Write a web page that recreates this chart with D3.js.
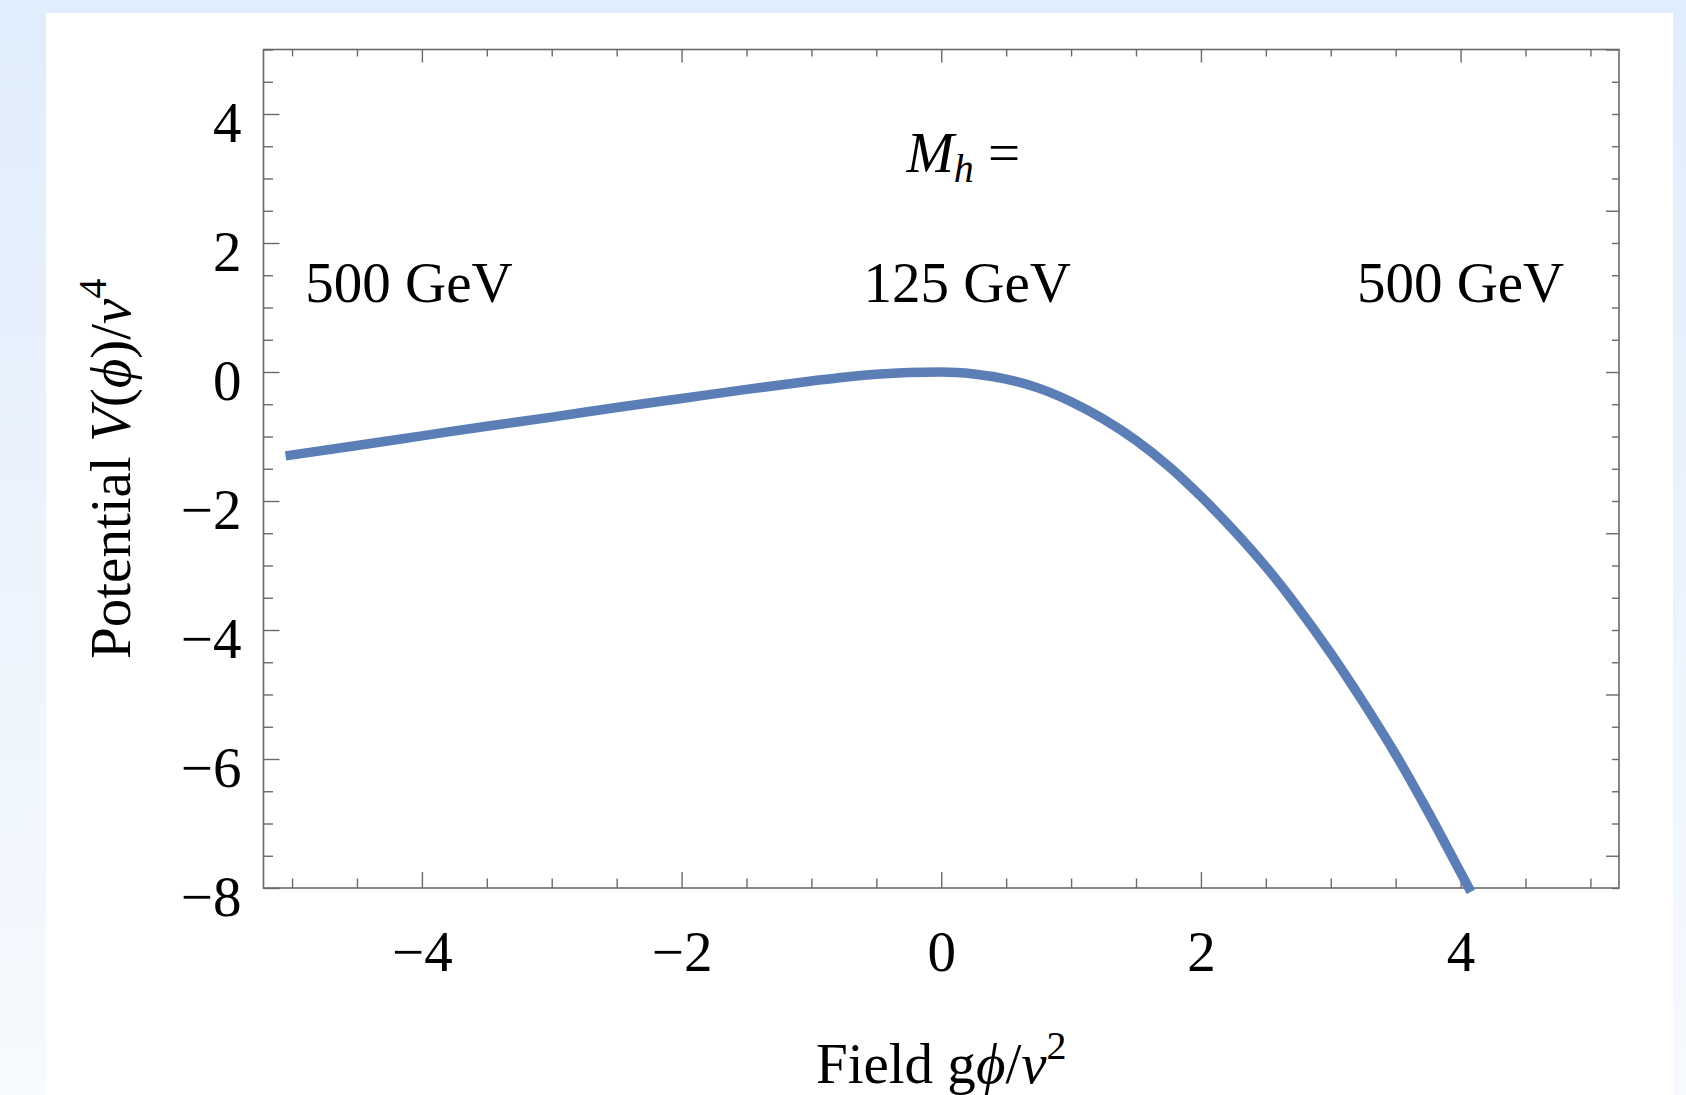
<!DOCTYPE html>
<html>
<head>
<meta charset="utf-8">
<script src="https://cdn.jsdelivr.net/npm/d3@7"></script>
<style>
  html, body { margin: 0; padding: 0; }
  body { width: 1686px; height: 1095px; overflow: hidden; }
  svg { display: block; }
</style>
</head>
<body>
<svg id="chart" width="1686" height="1095"></svg>
<script>
// field g*phi/v^2 and potential V/v^4
const fieldValues = [
  -5.05, -4.5, -4.0, -3.5, -3.0, -2.5, -2.0, -1.5, -1.0, -0.75, -0.5, -0.25, 0,
  0.25, 0.5, 0.75, 1.0, 1.25, 1.5, 1.75, 2.0, 2.25, 2.5, 2.75, 3.0, 3.25, 3.5, 3.75, 4.0, 4.08,
]
const potentialValues = [
  -1.30, -1.14, -0.99, -0.84, -0.70, -0.55, -0.41, -0.27, -0.14, -0.08, -0.035, -0.008, 0,
  -0.03, -0.11, -0.25, -0.46, -0.73, -1.06, -1.46, -1.93, -2.45, -3.02, -3.66, -4.36, -5.12, -5.93, -6.82, -7.76, -8.06,
]

const xMajorTicks = [-4, -2, 0, 2, 4]
const yMajorTicks = [-8, -6, -4, -2, 0, 2, 4]
const rightMajorTicks = [-7.5, -5, -2.5, 0, 2.5, 5]

const massTexts = ['500 GeV', '125 GeV', '500 GeV']
const massFields = [-4.1, 0.2, 4.0]
const massLevel = 1.09
const headerField = 0.17
const headerLevel = 3.1

const width = 1686
const height = 1095
const margin = { top: 49.5, right: 67, bottom: 207, left: 263.5 }
const serif = "'Liberation Serif', 'Times New Roman', Times, serif"
const frameColor = '#6a6a6a'
const lineColor = '#5b7eb7'
const fontSize = 57

const svg = d3.select('#chart')

// page background: pale blue with a white panel
const defs = svg.append('defs')
const grad = defs.append('linearGradient')
  .attr('id', 'bg')
  .attr('x1', 0).attr('y1', 0).attr('x2', 0).attr('y2', 1)
grad.append('stop').attr('offset', '0%').attr('stop-color', '#e0edfc')
grad.append('stop').attr('offset', '100%').attr('stop-color', '#f7fafe')

svg.append('rect').attr('width', width).attr('height', height).attr('fill', 'url(#bg)')
svg.append('rect')
  .attr('x', 46).attr('y', 13)
  .attr('width', 1627).attr('height', height - 13)
  .attr('fill', '#ffffff')

const x = d3.scaleLinear()
  .domain([-5.22, 5.22])
  .range([margin.left, width - margin.right])

const y = d3.scaleLinear()
  .domain([-8, 5])
  .range([height - margin.bottom, margin.top])

const xMinor = d3.range(-5, 5.001, 0.5).filter((d) => !xMajorTicks.includes(d))
const yMinor = d3.range(-8, 5.001, 0.5).filter((d) => !yMajorTicks.includes(d))
const rightMinor = d3.range(-8, 5.001, 0.5).filter((d) => !rightMajorTicks.includes(d))

const styleAxis = (g) => {
  g.select('.domain').remove()
  g.selectAll('line').attr('stroke', frameColor).attr('stroke-width', 1.4)
  g.attr('font-family', serif).attr('font-size', fontSize)
  g.selectAll('text').attr('fill', '#000')
}

const fmt = d3.format('d')

// left axis
svg.append('g')
  .attr('transform', `translate(${margin.left},0)`)
  .call(d3.axisLeft(y).tickValues(yMajorTicks).tickSize(-16).tickPadding(22).tickFormat(fmt))
  .call(styleAxis)
  .call((g) => g.selectAll('text').attr('dy', 0).attr('y', 27))
svg.append('g')
  .attr('transform', `translate(${margin.left},0)`)
  .call(d3.axisLeft(y).tickValues(yMinor).tickSize(-9.5).tickFormat(''))
  .call(styleAxis)

// bottom axis
svg.append('g')
  .attr('transform', `translate(0,${height - margin.bottom})`)
  .call(d3.axisBottom(x).tickValues(xMajorTicks).tickSize(-16).tickFormat(fmt))
  .call(styleAxis)
  .call((g) => g.selectAll('text').attr('dy', 0).attr('y', 83))
svg.append('g')
  .attr('transform', `translate(0,${height - margin.bottom})`)
  .call(d3.axisBottom(x).tickValues(xMinor).tickSize(-9.5).tickFormat(''))
  .call(styleAxis)

// top axis (no labels)
svg.append('g')
  .attr('transform', `translate(0,${margin.top})`)
  .call(d3.axisTop(x).tickValues(xMajorTicks).tickSize(-13).tickFormat(''))
  .call(styleAxis)
svg.append('g')
  .attr('transform', `translate(0,${margin.top})`)
  .call(d3.axisTop(x).tickValues(xMinor).tickSize(-7).tickFormat(''))
  .call(styleAxis)

// right axis (no labels)
svg.append('g')
  .attr('transform', `translate(${width - margin.right},0)`)
  .call(d3.axisRight(y).tickValues(rightMajorTicks).tickSize(-13).tickFormat(''))
  .call(styleAxis)
svg.append('g')
  .attr('transform', `translate(${width - margin.right},0)`)
  .call(d3.axisRight(y).tickValues(rightMinor).tickSize(-7).tickFormat(''))
  .call(styleAxis)

// frame
svg.append('rect')
  .attr('x', margin.left)
  .attr('y', margin.top)
  .attr('width', width - margin.left - margin.right)
  .attr('height', height - margin.top - margin.bottom)
  .attr('fill', 'none')
  .attr('stroke', frameColor)
  .attr('stroke-width', 1.6)

// curve
const line = d3.line()
  .x((d, i) => x(fieldValues[i]))
  .y((d) => y(d))
  .curve(d3.curveMonotoneX)

svg.append('path')
  .datum(potentialValues)
  .attr('fill', 'none')
  .attr('stroke', lineColor)
  .attr('stroke-width', 9.5)
  .attr('d', line)

// annotations
const labels = svg.append('g')
  .attr('font-family', serif)
  .attr('font-size', fontSize)
  .attr('fill', '#000')
  .attr('text-anchor', 'middle')

labels.selectAll('.mass')
  .data(massTexts)
  .join('text')
  .attr('class', 'mass')
  .attr('x', (d, i) => x(massFields[i]))
  .attr('y', y(massLevel))
  .text((d) => d)

const header = labels.append('text')
  .attr('x', x(headerField))
  .attr('y', y(headerLevel))
header.append('tspan').attr('font-style', 'italic').text('M')
header.append('tspan').attr('font-style', 'italic').attr('font-size', 40).attr('dy', 10).text('h')
header.append('tspan').attr('dy', -10).text(' =')

// axis titles
const xTitle = svg.append('text')
  .attr('font-family', serif)
  .attr('font-size', fontSize)
  .attr('text-anchor', 'middle')
  .attr('x', x(0))
  .attr('y', 1083)
xTitle.append('tspan').text('Field g')
xTitle.append('tspan').attr('font-style', 'italic').text('ϕ')
xTitle.append('tspan').text('/')
xTitle.append('tspan').attr('font-style', 'italic').text('v')
xTitle.append('tspan').attr('font-size', 40).attr('dy', -24).text('2')

const yTitle = svg.append('text')
  .attr('font-family', serif)
  .attr('font-size', fontSize)
  .attr('text-anchor', 'middle')
  .attr('transform', `translate(130,${(margin.top + height - margin.bottom) / 2}) rotate(-90)`)
yTitle.append('tspan').text('Potential ')
yTitle.append('tspan').attr('font-style', 'italic').text('V')
yTitle.append('tspan').text('(')
yTitle.append('tspan').attr('font-style', 'italic').text('ϕ')
yTitle.append('tspan').text(')/')
yTitle.append('tspan').attr('font-style', 'italic').text('v')
yTitle.append('tspan').attr('font-size', 40).attr('dy', -24).text('4')
</script>
</body>
</html>
